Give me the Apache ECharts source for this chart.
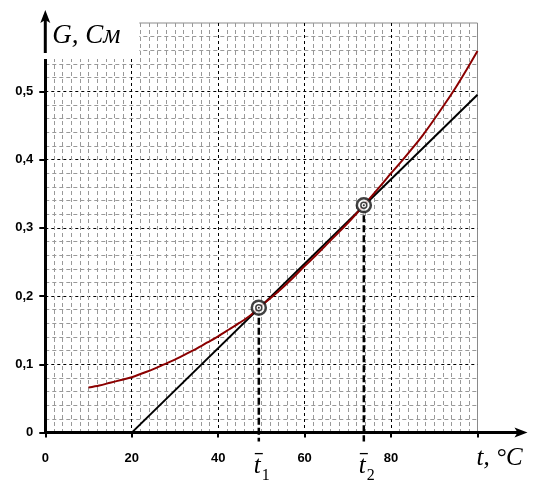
<!DOCTYPE html>
<html><head><meta charset="utf-8">
<script src="https://cdn.jsdelivr.net/npm/echarts@6/dist/echarts.min.js"></script>
<style>html,body{margin:0;padding:0;background:#fff}#c{width:535px;height:487px}</style>
</head><body><div id="c"></div>
<script>
// ---- data ----
const xMin = 0, xMax = 100, xStep = 20;
const yMin = 0, yMax = 0.6, yStep = 0.1;
const redT = [10,12.5,15,17.5,20,22.5,25,27.5,30,32.5,35,37.5,40,42.5,45,47.5,49.4,52.5,55,57.5,60,62.5,65,67.5,70,73.7,77.5,80,82.5,85,87.5,90,92.5,95,97.5,100];
const redG = [0.066,0.069,0.073,0.077,0.081,0.087,0.093,0.100,0.107,0.115,0.123,0.132,0.141,0.151,0.161,0.172,0.183,0.199,0.213,0.228,0.244,0.259,0.275,0.291,0.307,0.333,0.361,0.380,0.398,0.417,0.437,0.459,0.482,0.506,0.532,0.559];
const tangentT = [20, 100];
const tangentG = [0, 0.495];
const markT = [49.4, 73.7];
const markG = [0.183, 0.333];
const markSub = ['1', '2'];
const yTitle = 'G, См';
const xTitle = 't, °C';

const serif = "'Liberation Serif', 'DejaVu Serif', serif";
const sans = "'Liberation Sans', Arial, sans-serif";

const chart = echarts.init(document.getElementById('c'));
const gridL = 45.3, gridR = 57.5, gridT = 23, gridB = 54.4;

const zip = (a, b) => a.map((v, i) => [v, b[i]]);

const option = {
  animation: false,
  backgroundColor: '#fff',
  grid: { left: gridL, right: gridR, top: gridT, bottom: gridB, show: true, borderColor: '#8a8a8a', borderWidth: 1, backgroundColor: 'transparent' },
  xAxis: {
    type: 'value', min: xMin, max: xMax, interval: xStep,
    axisLine: { show: true, onZero: false, lineStyle: { color: '#000', width: 3 } },
    axisTick: { show: true, length: 5, lineStyle: { color: '#000', width: 2 } },
    minorTick: { show: false, splitNumber: 10 },
    axisLabel: { margin: 19, color: '#000', fontFamily: sans, fontWeight: 'bold', fontSize: 13,
      formatter: v => (v === xMax ? '' : String(v)) },
    splitLine: { show: true, showMinLine: false, showMaxLine: false, lineStyle: { color: '#000', width: 1, type: [3, 3] } },
    minorSplitLine: { show: true, lineStyle: { color: '#999', width: 1, type: [4, 3] } }
  },
  yAxis: {
    type: 'value', min: yMin, max: yMax, interval: yStep,
    axisLine: { show: true, onZero: false, lineStyle: { color: '#000', width: 3 } },
    axisTick: { show: true, length: 6, lineStyle: { color: '#000', width: 2 } },
    minorTick: { show: false, splitNumber: 5 },
    axisLabel: { margin: 12, color: '#000', fontFamily: sans, fontWeight: 'bold', fontSize: 13,
      formatter: v => (Math.abs(v - yMax) < 1e-9 ? '' : (v === 0 ? '0' : v.toFixed(1).replace('.', ','))) },
    splitLine: { show: true, showMinLine: false, showMaxLine: false, lineStyle: { color: '#000', width: 1, type: [3, 3] } },
    minorSplitLine: { show: true, lineStyle: { color: '#999', width: 1, type: [4, 3] } }
  },
  series: [
    { type: 'line', data: zip(tangentT, tangentG), symbol: 'none', lineStyle: { color: '#000', width: 2 }, z: 3 },
    { type: 'line', data: zip(redT, redG), symbol: 'none', smooth: 0.3, lineStyle: { color: '#8b0000', width: 2 }, z: 4 },
    ...markT.map((t, i) => ({ type: 'line', clip: false, data: [[t, markG[i]], [t, -0.013]], symbol: 'none',
      lineStyle: { color: '#000', width: 2.5, type: [7, 3] }, z: 5 })),
    { type: 'scatter', data: zip(markT, markG), symbol: 'circle', symbolSize: 14,
      itemStyle: { color: '#fff', borderColor: '#111', borderWidth: 2.5 }, z: 6 },
    { type: 'scatter', data: zip(markT, markG), symbol: 'circle', symbolSize: 6,
      itemStyle: { color: '#fff', borderColor: '#111', borderWidth: 1.5 }, z: 7 },
    { type: 'scatter', data: zip(markT, markG), symbol: 'circle', symbolSize: 2,
      itemStyle: { color: '#000' }, z: 8 }
  ]
};
chart.setOption(option);

const px = (x, y) => chart.convertToPixel({ gridIndex: 0 }, [x, y]);
const o = px(xMin, yMin);
const tr = px(xMax, yMax);
const graphics = [];
// white patch behind y title
graphics.push({ type: 'rect', shape: { x: o[0] - 10, y: tr[1] - 5, width: 94 + 10, height: 36 + 5 }, style: { fill: '#fff' }, z: 50 });
// y-axis arrow
graphics.push({ type: 'line', shape: { x1: o[0], y1: tr[1] + 30, x2: o[0], y2: tr[1] - 8 }, style: { stroke: '#000', lineWidth: 3 }, z: 51 });
graphics.push({ type: 'polygon', shape: { points: [[o[0], tr[1] - 13], [o[0] - 5, tr[1]], [o[0], tr[1] - 3], [o[0] + 5, tr[1]]] }, style: { fill: '#000' }, z: 51 });
// x-axis arrow
graphics.push({ type: 'line', shape: { x1: tr[0], y1: o[1], x2: tr[0] + 42, y2: o[1] }, style: { stroke: '#000', lineWidth: 3 }, z: 51 });
graphics.push({ type: 'polygon', shape: { points: [[tr[0] + 50, o[1]], [tr[0] + 37, o[1] - 5], [tr[0] + 40, o[1]], [tr[0] + 37, o[1] + 5]] }, style: { fill: '#000' }, z: 51 });
// titles
graphics.push({ type: 'text', x: o[0] + 7, y: tr[1] + 13, style: { text: yTitle, font: 'italic 27px ' + serif, fill: '#000', verticalAlign: 'middle', align: 'left' }, z: 52 });
graphics.push({ type: 'text', x: tr[0] - 1, y: o[1] + 26, style: { text: xTitle, font: 'italic 25px ' + serif, fill: '#000', verticalAlign: 'middle', align: 'left' }, z: 52 });
// t-bar labels
markT.forEach((t, i) => {
  const p = px(t, 0);
  const x0 = p[0] - 5;
  graphics.push({ type: 'text', x: x0, y: o[1] + 34, style: { text: 't', font: 'italic 25px ' + serif, fill: '#000', verticalAlign: 'middle', align: 'left' }, z: 52 });
  graphics.push({ type: 'line', shape: { x1: x0 + 1, y1: o[1] + 21, x2: x0 + 9, y2: o[1] + 21 }, style: { stroke: '#000', lineWidth: 1.3 }, z: 52 });
  graphics.push({ type: 'text', x: x0 + 8, y: o[1] + 43, style: { text: markSub[i], font: '16px ' + serif, fill: '#000', verticalAlign: 'middle', align: 'left' }, z: 52 });
});
chart.setOption({ graphic: graphics });
</script>
</body></html>
